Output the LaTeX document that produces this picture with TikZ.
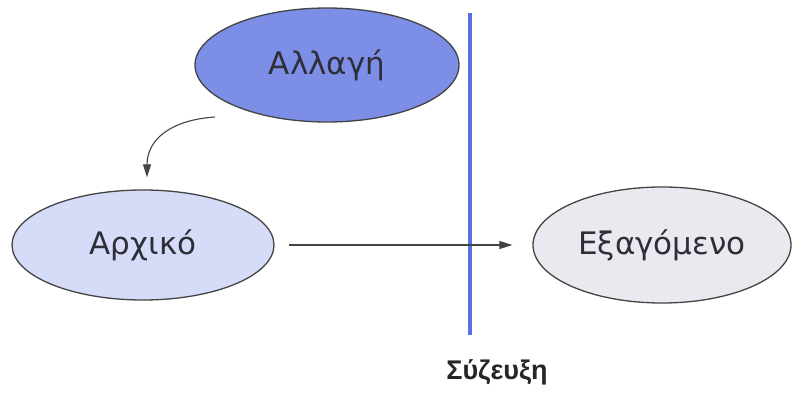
\documentclass[tikz,border=0pt]{standalone}
\usepackage{fontspec}
\setmainfont{Liberation Sans}
\newfontfamily\ovalfont{DejaVu Sans}
\usetikzlibrary{shapes.geometric,arrows.meta}
\definecolor{darkblue}{HTML}{7C8EE6}
\definecolor{lightblue}{HTML}{D6DCF8}
\definecolor{lightgray}{HTML}{E9EAF0}
\definecolor{linecol}{HTML}{444444}
\definecolor{barblue}{HTML}{5A6FE0}
\definecolor{txt}{HTML}{2E2E38}
\begin{document}
\begin{tikzpicture}[x=1pt,y=-1pt,
  oval/.style={ellipse,draw=linecol,line width=1.3pt,inner sep=0pt,text=txt,font=\ovalfont\fontsize{31}{33}\selectfont},
  conn/.style={draw=linecol,line width=1.1pt,-{Triangle[length=13pt,width=8pt]}}]
\useasboundingbox (0,0) rectangle (796,393);
\fill[white] (0,0) rectangle (796,393);
\node[oval,fill=darkblue,minimum width=264pt,minimum height=114pt] (change) at (327,65) {Αλλαγή};
\node[oval,fill=lightblue,minimum width=262pt,minimum height=110pt] (initial) at (143,245) {Αρχικό};
\node[oval,fill=lightgray,minimum width=258pt,minimum height=116pt] (output) at (662,245) {Εξαγόμενο};
\coordinate (ctop) at (470,13);
\coordinate (cbot) at (470,335);
\draw[barblue,line width=4pt] (ctop) -- (cbot);
\node[font=\fontsize{27}{29}\selectfont\bfseries,text=black!85] (coupling) at (497,372) {Σύζευξη};
\coordinate (cs) at ([shift={(-112,52)}]change.center);
\coordinate (ce) at ([shift={(4,-12)}]initial.north);
\draw[conn] (cs) .. controls (170,120) and (147,140) .. (ce);
\draw[conn,shorten <=14pt,shorten >=20pt] (initial.east) -- (output.west);
\end{tikzpicture}
\end{document}
